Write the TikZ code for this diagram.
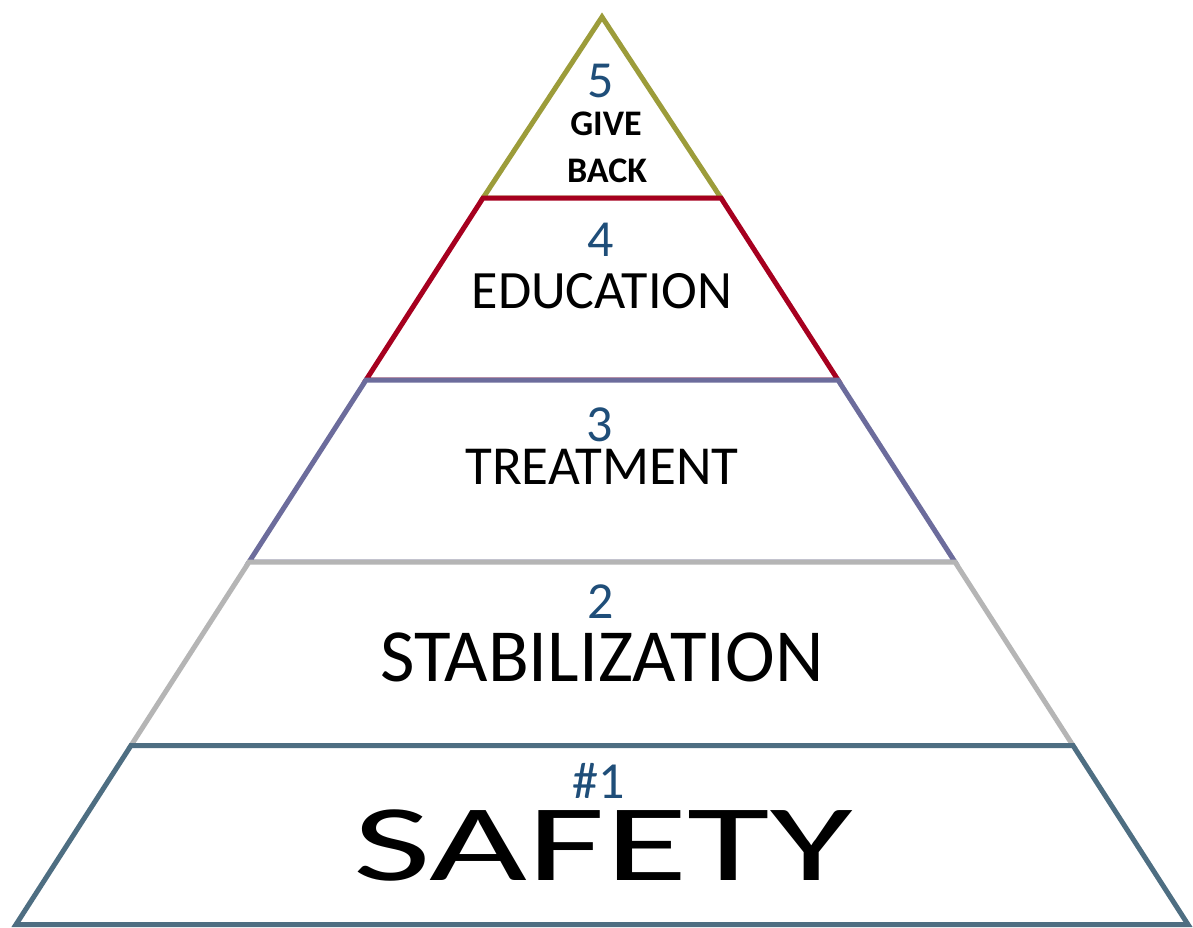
\documentclass[tikz,border=0pt]{standalone}
\usepackage{fontspec}
\setmainfont{Carlito}
\definecolor{olivel}{HTML}{9C9C3A}
\definecolor{redl}{HTML}{A6001F}
\definecolor{purplel}{HTML}{6C6C9C}
\definecolor{grayl}{HTML}{B5B5B5}
\definecolor{teall}{HTML}{4E6E82}
\definecolor{numblue}{HTML}{1F4E79}
\begin{document}
\begin{tikzpicture}[x=1pt,y=-1pt,
  levelline/.style={line width=5pt, fill=white, line join=miter},
  numtxt/.style={anchor=base, inner sep=0pt, text=numblue, text height=33pt, text depth=0pt, font=\fontsize{52}{52}\selectfont},
  lbltxt/.style={anchor=base, inner sep=0pt, text=black, text depth=0pt}]
\useasboundingbox (0,0) rectangle (1193,927);
% level 5
\draw[levelline, draw=olivel] (602,17) -- (721,198) -- (483,198) -- cycle;
% level 4
\draw[levelline, draw=redl] (483,198) -- (721,198) -- (838,380) -- (366,380) -- cycle;
% level 3
\draw[levelline, draw=purplel] (366,380) -- (838,380) -- (955,562) -- (249,562) -- cycle;
% level 2
\draw[levelline, draw=grayl] (249,562) -- (955,562) -- (1073,745.5) -- (131,745.5) -- cycle;
% level 1
\draw[levelline, draw=teall] (131,745.5) -- (1073,745.5) -- (1188,924.5) -- (16,924.5) -- cycle;

\node[numtxt] (n5) at (601,97) {5};
\node[lbltxt, text height=23pt, font=\bfseries\fontsize{36}{36}\selectfont] (give) at (606,135) {GIVE};
\node[lbltxt, text height=23pt, font=\bfseries\fontsize{36}{36}\selectfont] (back) at (607,182) {BACK};

\node[numtxt] (n4) at (601,256) {4};
\node[lbltxt, text height=35pt, font=\fontsize{54}{54}\selectfont] (edu) at (602,308) {EDUCATION};

\node[numtxt] (n3) at (600,441) {3};
\node[lbltxt, text height=35pt, font=\fontsize{55}{55}\selectfont] (treat) at (602,484) {TREATMENT};

\node[numtxt] (n2) at (601,618) {2};
\node[lbltxt, text height=48pt, font=\fontsize{75}{75}\selectfont] (stab) at (602,681) {STABILIZATION};

\node[numtxt] (n1) at (599,798) {\#1};
\node[lbltxt, text height=70pt, font=\fontsize{109}{109}\selectfont, xscale=1.55] (safety) at (603,880) {SAFETY};
\end{tikzpicture}
\end{document}
